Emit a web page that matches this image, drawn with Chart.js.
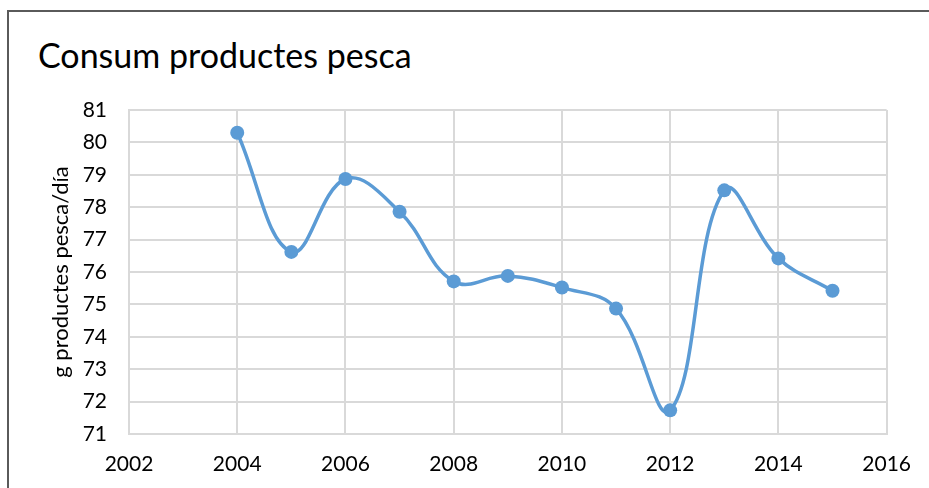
<!DOCTYPE html>
<html>
<head>
<meta charset="utf-8">
<script src="https://cdn.jsdelivr.net/npm/chart.js@4"></script>
<style>
  html, body { margin:0; padding:0; background:#fff; overflow:hidden; }
  #wrap { position:relative; width:929px; height:488px; }
  #frame { position:absolute; left:7px; top:10px; width:1000px; height:1000px;
           border:2px solid #5a5a5a; box-sizing:border-box; }
  #title { position:absolute; left:38px; top:34px; font-family:Lato, sans-serif;
           font-size:34px; color:#000; white-space:nowrap; }
  canvas { position:absolute; left:0; top:0; }
</style>
</head>
<body>
<div id="wrap">
  <div id="frame"></div>
  <div id="title">Consum productes pesca</div>
  <canvas id="chart" width="929" height="488"></canvas>
</div>
<script>
// data
const YEARS  = [2004, 2005, 2006, 2007, 2008, 2009, 2010, 2011, 2012, 2013, 2014, 2015];
const VALUES = [80.3, 76.62, 78.87, 77.86, 75.71, 75.88, 75.52, 74.87, 71.73, 78.52, 76.42, 75.42];
const X_MIN = 2002, X_MAX = 2016, X_STEP = 2;
const Y_MIN = 71,   Y_MAX = 81,   Y_STEP = 1;
const Y_TITLE = "g productes pesca/día";

const BLUE = "#5b9bd5";
const GRID = "#d9d9d9";
const FONT = "Lato, sans-serif";

const points = YEARS.map((y, i) => ({ x: y, y: VALUES[i] }));

new Chart(document.getElementById("chart").getContext("2d"), {
  type: "scatter",
  data: {
    datasets: [{
      data: points,
      showLine: true,
      borderColor: BLUE,
      backgroundColor: BLUE,
      borderWidth: 3.5,
      tension: 0.4,
      pointRadius: 7,
      pointBorderWidth: 0,
      clip: false,
    }],
  },
  options: {
    responsive: false,
    animation: false,
    layout: { padding: { top: 110, right: 41, left: 0, bottom: 0 } },
    plugins: { legend: { display: false }, tooltip: { enabled: false } },
    scales: {
      x: {
        type: "linear", min: X_MIN, max: X_MAX,
        ticks: { stepSize: X_STEP, color: "#000", padding: 18,
                 font: { family: FONT, size: 21 }, callback: v => String(v) },
        grid: { color: GRID, lineWidth: 2, drawTicks: false },
        border: { color: GRID, width: 2 },
        afterFit: s => { s.height = 54; },
      },
      y: {
        min: Y_MIN, max: Y_MAX,
        ticks: { stepSize: Y_STEP, color: "#000", padding: 22,
                 font: { family: FONT, size: 21 } },
        grid: { color: GRID, lineWidth: 2, drawTicks: false },
        border: { color: GRID, width: 2 },
        title: { display: true, text: Y_TITLE, color: "#000",
                 font: { family: FONT, size: 22 }, padding: { top: 48, bottom: 0 } },
        afterFit: s => { s.width = 129; },
      },
    },
  },
});
</script>
</body>
</html>
